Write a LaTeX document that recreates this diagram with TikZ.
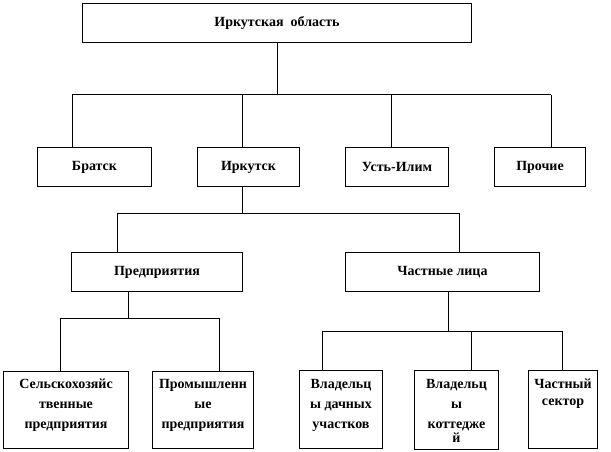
\documentclass[tikz,border=0pt]{standalone}
\usepackage{fontspec}
\setmainfont{Liberation Serif}
\begin{document}
\begin{tikzpicture}[x=1pt,y=-1pt,
  box/.style={draw,line width=1pt,anchor=north west,inner sep=0pt,
    font=\fontsize{14}{20}\selectfont\bfseries,align=center},
  lbl/.style={anchor=north,inner sep=0pt,align=center,
    font=\fontsize{14}{20}\selectfont\bfseries},
  conn/.style={line width=1pt}]
\useasboundingbox (0,0) rectangle (611,452);
% boxes
\node[box,minimum width=389,minimum height=39] (top) at (82,3) {Иркутская\ \ область};
\node[box,minimum width=114,minimum height=39] (bratsk) at (37,147) {Братск};
\node[box,minimum width=102,minimum height=39] (irk) at (197,147) {Иркутск};
\node[box,minimum width=103,minimum height=39] (ust) at (345,147) {Усть-Илим};
\node[box,minimum width=91,minimum height=39] (proch) at (494,147) {Прочие};
\node[box,minimum width=171,minimum height=39] (pred) at (71,252) {Предприятия};
\node[box,minimum width=194,minimum height=39] (chast) at (345,252) {Частные лица};
\node[box,minimum width=125,minimum height=77] (b1) at (3,371) {};
\node[box,minimum width=101,minimum height=77] (b2) at (152,371) {};
\node[box,minimum width=83,minimum height=78] (b3) at (299,370) {};
\node[box,minimum width=84,minimum height=79] (b4) at (414,370) {};
\node[box,minimum width=69,minimum height=78] (b5) at (528,370) {};
% texts of the lower boxes
\node[lbl] (t1) at ([yshift=-8]b1.north) {Сельскохозяйс\\твенные\\предприятия};
\node[lbl] (t2) at ([yshift=-8]b2.north) {Промышленн\\ые\\предприятия};
\node[lbl] (t3) at ([yshift=-9]b3.north) {Владельц\\ы дачных\\участков};
\node[lbl] (t4) at ([yshift=-9]b4.north) {Владельц\\ы\\коттедже\\[-6pt]й};
\node[lbl,font=\fontsize{14}{17}\selectfont\bfseries] (t5) at ([yshift=-9]b5.north) {Частный\\сектор};
% junction coordinates
\coordinate (j0) at (277,95);
\coordinate (jA) at (72,95);
\coordinate (jB) at (242,95);
\coordinate (jC) at (391,95);
\coordinate (jD) at (551,95);
\coordinate (k0) at (242,213);
\coordinate (kA) at (117,213);
\coordinate (kB) at (459,213);
\coordinate (m0) at (128,318);
\coordinate (mA) at (60,318);
\coordinate (mB) at (219,318);
\coordinate (n0) at (448,331);
\coordinate (nA) at (322,331);
\coordinate (nB) at (471,331);
\coordinate (nC) at (562,331);
% connectors
\draw[conn] (top.south -| j0) -- (j0);
\draw[conn] (jA) -- (jD);
\draw[conn] (jA) -- (jA |- bratsk.north);
\draw[conn] (jB) -- (jB |- irk.north);
\draw[conn] (jC) -- (jC |- ust.north);
\draw[conn] (jD) -- (jD |- proch.north);
\draw[conn] (irk.south -| k0) -- (k0);
\draw[conn] (kA) -- (kB);
\draw[conn] (kA) -- (kA |- pred.north);
\draw[conn] (kB) -- (kB |- chast.north);
\draw[conn] (pred.south -| m0) -- (m0);
\draw[conn] (mA) -- (mB);
\draw[conn] (mA) -- (mA |- b1.north);
\draw[conn] (mB) -- (mB |- b2.north);
\draw[conn] (chast.south -| n0) -- (n0);
\draw[conn] (nA) -- (nC);
\draw[conn] (nA) -- (nA |- b3.north);
\draw[conn] (nB) -- (nB |- b4.north);
\draw[conn] (nC) -- (nC |- b5.north);
\end{tikzpicture}
\end{document}
